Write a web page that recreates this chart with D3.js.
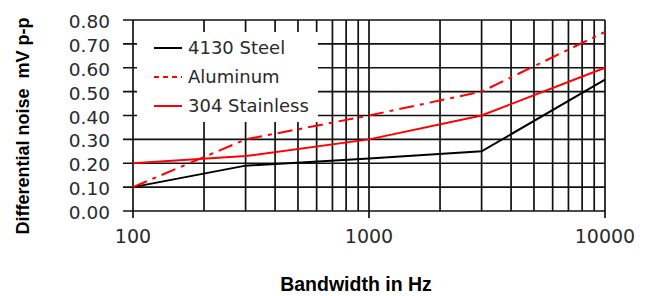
<!DOCTYPE html>
<html><head><meta charset="utf-8">
<script src="https://cdn.jsdelivr.net/npm/d3@7"></script>
<style>body{margin:0;background:#fff}svg{display:block}text{white-space:pre}</style>
</head><body>
<script>
const freqs = [100, 300, 1000, 3000, 10000];
const steel = [0.10, 0.19, 0.22, 0.25, 0.55];
const aluminum = [0.10, 0.30, 0.40, 0.50, 0.75];
const stainless = [0.20, 0.23, 0.30, 0.40, 0.60];
const seriesNames = ["4130 Steel", "Aluminum", "304 Stainless"];
const xTickLabels = ["100", "1000", "10000"];
const yTickLabels = ["0.00","0.10","0.20","0.30","0.40","0.50","0.60","0.70","0.80"];
const xAxisTitle = "Bandwidth in Hz";
const yAxisTitle = "Differential noise  mV p-p";

const W = 656, H = 296;
const L = 133, R = 605, T = 20, B = 211;
const svg = d3.select("body").append("svg").attr("width", W).attr("height", H);
const x = d3.scaleLog().domain([100, 10000]).range([L, R]);
const y = d3.scaleLinear().domain([0, 0.8]).range([B, T]);
const gridCol = "#111";

// vertical grid lines
const minor = [];
for (let d = 100; d < 10000; d *= 10) for (let k = 1; k < 10; k++) minor.push(d * k);
minor.push(10000);
svg.append("g").selectAll("line").data(minor).join("line")
  .attr("x1", d => x(d)).attr("x2", d => x(d))
  .attr("y1", T).attr("y2", B)
  .attr("stroke", gridCol).attr("stroke-width", 1.7);
// horizontal grid lines
const yVals = yTickLabels.map(Number);
svg.append("g").selectAll("line").data(yVals).join("line")
  .attr("x1", L - 10).attr("x2", R)
  .attr("y1", d => y(d)).attr("y2", d => y(d))
  .attr("stroke", gridCol).attr("stroke-width", 1.7);
// major x ticks extending below
const xVals = xTickLabels.map(Number);
svg.append("g").selectAll("line").data(xVals).join("line")
  .attr("x1", d => x(d)).attr("x2", d => x(d))
  .attr("y1", B).attr("y2", B + 7)
  .attr("stroke", gridCol).attr("stroke-width", 1.7);

// legend background
svg.append("rect").attr("x", 137).attr("y", 32).attr("width", 181).attr("height", 90).attr("fill", "#fff");

// tick labels
const tickFont = "DejaVu Sans, sans-serif";
svg.append("g").selectAll("text").data(yVals).join("text")
  .attr("x", 110).attr("y", d => y(d) + 8)
  .attr("text-anchor", "end").attr("font-family", tickFont).attr("font-size", 18.5)
  .attr("fill", "#2a2a2a").text((d, i) => yTickLabels[i]);
svg.append("g").selectAll("text").data(xVals).join("text")
  .attr("x", d => x(d)).attr("y", 243)
  .attr("text-anchor", "middle").attr("font-family", tickFont).attr("font-size", 19)
  .attr("fill", "#2a2a2a").text((d, i) => xTickLabels[i]);

// axis titles
svg.append("text").attr("x", 356).attr("y", 291)
  .attr("text-anchor", "middle").attr("font-family", "Liberation Sans, Arial, sans-serif")
  .attr("font-weight", "bold").attr("font-size", 19.5).attr("fill", "#000").text(xAxisTitle);
svg.append("text").attr("transform", "translate(29,126) rotate(-90)")
  .attr("text-anchor", "middle").attr("font-family", "Liberation Sans, Arial, sans-serif")
  .attr("font-weight", "bold").attr("font-size", 18).attr("fill", "#000").text(yAxisTitle);

// series
const line = d3.line().x(d => x(d[0])).y(d => y(d[1]));
const series = [
  {vals: steel, color: "#000", dash: null, legendDash: null},
  {vals: aluminum, color: "#ff0000", dash: "15,6,4,6", legendDash: "5,4"},
  {vals: stainless, color: "#ff0000", dash: null, legendDash: null}
];
series.forEach(s => {
  svg.append("path").datum(freqs.map((f, i) => [f, s.vals[i]]))
    .attr("d", line).attr("fill", "none").attr("stroke", s.color)
    .attr("stroke-width", 2).attr("stroke-dasharray", s.dash);
});

// legend
const legY = [48, 77, 106];
series.forEach((s, i) => {
  svg.append("line").attr("x1", 154).attr("x2", 182).attr("y1", legY[i]).attr("y2", legY[i])
    .attr("stroke", s.color).attr("stroke-width", 2).attr("stroke-dasharray", s.legendDash);
  svg.append("text").attr("x", 188).attr("y", legY[i] + 6)
    .attr("font-family", tickFont).attr("font-size", 18).attr("fill", "#2a2a2a")
    .text(seriesNames[i]);
});
</script>
</body></html>
